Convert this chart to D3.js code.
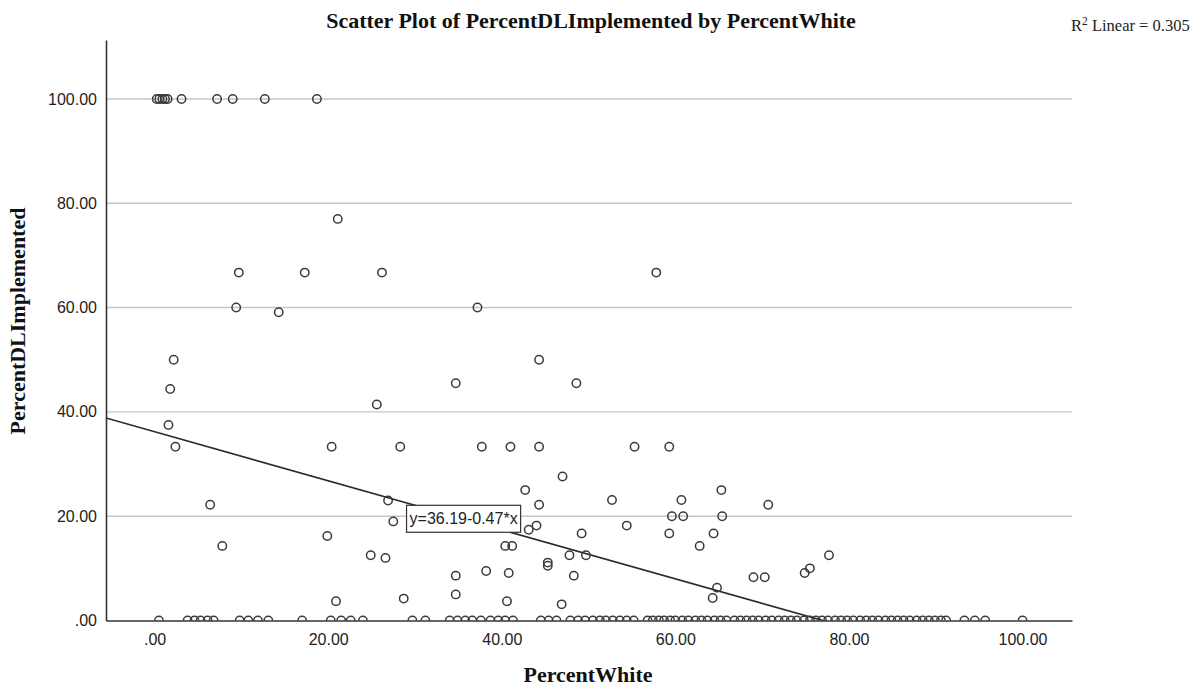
<!DOCTYPE html>
<html>
<head>
<meta charset="utf-8">
<script src="https://cdn.jsdelivr.net/npm/d3@7"></script>
<style>
  body { margin: 0; background: #fff; }
  .tick text { font-family: "Liberation Sans Narrow", "Liberation Sans", sans-serif; font-size: 16px; fill: #222; }
</style>
</head>
<body>
<script>
const width = 1203;
const height = 689;

// Points at PercentDLImplemented = 100
const topRowWhite = [0.25, 0.55, 0.9, 1.2, 1.5, 3.1, 7.2, 9.0, 12.7, 18.7];

// Points at PercentDLImplemented = 0
const zeroRowWhite = [
  0.5, 3.8, 4.6, 5.3, 6.1, 6.8, 9.8, 10.8, 11.9, 13.1, 17.0,
  20.3, 21.5, 22.6, 24.0, 29.7, 31.2,
  34.0, 34.9, 35.8, 36.6, 37.6, 38.7, 39.6, 40.4, 41.3,
  44.5, 45.4, 46.3,
  47.9, 48.8, 49.6, 50.5, 51.3, 52.0, 52.8, 53.6, 54.4, 55.2,
  56.8, 57.4, 58.1, 58.7, 59.4, 60.0, 60.8, 61.5, 62.3, 63.0, 63.7, 64.5,
  65.2, 65.9, 66.8, 67.5, 68.2, 68.9, 69.6, 70.4, 71.1, 71.9, 72.6, 73.3,
  74.0, 74.8, 75.5, 76.2, 76.9, 77.6, 78.4, 79.1, 79.8, 80.5, 81.3, 82.0,
  82.7, 83.4, 84.2, 84.9, 85.6, 86.3, 87.0, 87.8, 88.5, 89.2, 89.9, 90.6, 91.2,
  93.3, 94.5, 95.7, 100.0
];

// Everything in between
const midWhite = [
  21.1, 9.7, 17.3, 26.2, 57.8, 9.4, 37.2, 14.3, 2.2, 44.3,
  1.8, 34.7, 48.6, 25.6, 1.6, 2.4, 20.4, 28.3, 37.7, 41.0,
  44.3, 55.3, 59.3, 47.0, 42.7, 65.3, 44.3, 6.4, 70.7, 26.9,
  52.7, 60.7, 27.5, 59.6, 60.9, 65.4, 44.0, 43.1, 54.4, 19.9,
  49.2, 59.3, 64.4, 7.8, 40.4, 41.2, 62.8, 24.9, 26.6, 47.8,
  49.7, 77.7, 45.3, 45.3, 38.2, 40.8, 34.7, 48.3, 69.0, 70.3,
  74.9, 75.5, 64.8, 64.3, 34.7, 28.7, 20.9, 40.6, 46.9
];
const midDL = [
  77.0, 66.7, 66.7, 66.7, 66.7, 60.0, 60.0, 59.1, 50.0, 50.0,
  44.4, 45.5, 45.5, 41.4, 37.5, 33.3, 33.3, 33.3, 33.3, 33.3,
  33.3, 33.3, 33.3, 27.6, 25.0, 25.0, 22.2, 22.2, 22.2, 23.0,
  23.1, 23.1, 19.0, 20.0, 20.0, 20.0, 18.2, 17.4, 18.2, 16.2,
  16.7, 16.7, 16.7, 14.3, 14.3, 14.3, 14.3, 12.5, 12.0, 12.5,
  12.5, 12.5, 11.1, 10.5, 9.5, 9.1, 8.6, 8.6, 8.3, 8.3,
  9.1, 10.0, 6.3, 4.3, 5.0, 4.2, 3.7, 3.7, 3.1
];

const fitIntercept = 36.19;
const fitSlope = -0.47;
const rSquared = 0.305;

const xTicks = [0, 20, 40, 60, 80, 100];
const yTicks = [0, 20, 40, 60, 80, 100];

const points = [];
topRowWhite.forEach((w) => points.push({ x: w, y: 100 }));
zeroRowWhite.forEach((w) => points.push({ x: w, y: 0 }));
midWhite.forEach((w, i) => points.push({ x: w, y: midDL[i] }));

const plotLeft = 106, plotRight = 1072, plotTop = 40, plotBottom = 620.5;

const x = d3.scaleLinear().domain([-5.6, 105.7]).range([plotLeft, plotRight]);
const y = d3.scaleLinear().domain([0, 111.3]).range([plotBottom, plotTop]);

const fmt = (v) => d3.format(".2f")(v).replace(/^0\./, ".");

const svg = d3.select("body").append("svg")
  .attr("width", width)
  .attr("height", height);

svg.append("defs").append("clipPath").attr("id", "plot")
  .append("rect")
  .attr("x", plotLeft).attr("y", plotTop)
  .attr("width", plotRight - plotLeft).attr("height", plotBottom - plotTop);

// gridlines
svg.append("g")
  .selectAll("line")
  .data(yTicks.filter((t) => t > 0))
  .enter()
  .append("line")
  .attr("x1", plotLeft).attr("x2", plotRight)
  .attr("y1", (d) => y(d)).attr("y2", (d) => y(d))
  .attr("stroke", "#c6c6c6")
  .attr("stroke-width", 1.4);

// fit line
const plotG = svg.append("g").attr("clip-path", "url(#plot)");
const xd = x.domain();
plotG.append("line")
  .attr("x1", x(xd[0])).attr("y1", y(fitIntercept + fitSlope * xd[0]))
  .attr("x2", x(xd[1])).attr("y2", y(fitIntercept + fitSlope * xd[1]))
  .attr("stroke", "#2a2a2a")
  .attr("stroke-width", 1.6);

// points
plotG.selectAll("circle")
  .data(points)
  .enter()
  .append("circle")
  .attr("cx", (d) => x(d.x))
  .attr("cy", (d) => y(d.y))
  .attr("r", 4.2)
  .attr("fill", "none")
  .attr("stroke", "#3a3a3a")
  .attr("stroke-width", 1.5);

// axes
const yAxis = svg.append("g")
  .attr("transform", `translate(${plotLeft},0)`)
  .call(d3.axisLeft(y).tickValues(yTicks).tickFormat(fmt).tickSize(0).tickPadding(9));
const xAxis = svg.append("g")
  .attr("transform", `translate(0,${plotBottom})`)
  .call(d3.axisBottom(x).tickValues(xTicks).tickFormat(fmt).tickSize(0).tickPadding(13));
[yAxis, xAxis].forEach((a) => {
  a.select(".domain").attr("stroke", "#333").attr("stroke-width", 1.6);
});

// fit equation label
const labG = svg.append("g")
  .attr("transform", `translate(${x(35.6)},${y(19.5)})`);
const labText = labG.append("text")
  .attr("text-anchor", "middle")
  .attr("dy", "0.35em")
  .style("font-family", "'Liberation Sans Narrow', 'Liberation Sans', sans-serif")
  .style("font-size", "16px")
  .attr("fill", "#222")
  .text(`y=${fitIntercept.toFixed(2)}${fitSlope < 0 ? "-" : "+"}${Math.abs(fitSlope).toFixed(2)}*x`);
const bb = labText.node().getBBox();
labG.insert("rect", "text")
  .attr("x", bb.x - 3).attr("y", -13.5)
  .attr("width", bb.width + 6).attr("height", 27)
  .attr("fill", "#fff")
  .attr("stroke", "#333")
  .attr("stroke-width", 1.2);

// titles
svg.append("text")
  .attr("x", 591).attr("y", 28)
  .attr("text-anchor", "middle")
  .style("font-family", "'Liberation Serif', serif")
  .style("font-weight", "bold")
  .style("font-size", "22px")
  .attr("fill", "#111")
  .text("Scatter Plot of PercentDLImplemented by PercentWhite");

svg.append("text")
  .attr("x", 588).attr("y", 682)
  .attr("text-anchor", "middle")
  .style("font-family", "'Liberation Serif', serif")
  .style("font-weight", "bold")
  .style("font-size", "22px")
  .attr("fill", "#111")
  .text("PercentWhite");

svg.append("text")
  .attr("transform", "translate(25,321) rotate(-90)")
  .attr("text-anchor", "middle")
  .style("font-family", "'Liberation Serif', serif")
  .style("font-weight", "bold")
  .style("font-size", "22px")
  .attr("fill", "#111")
  .text("PercentDLImplemented");

const r2 = svg.append("text")
  .attr("x", 1071).attr("y", 31)
  .style("font-family", "'Liberation Serif', serif")
  .style("font-size", "16.5px")
  .attr("fill", "#222");
r2.append("tspan").text("R");
r2.append("tspan").attr("dy", -6).style("font-size", "11.5px").text("2");
r2.append("tspan").attr("dy", 6).text(` Linear = ${rSquared.toFixed(3)}`);
</script>
</body>
</html>
